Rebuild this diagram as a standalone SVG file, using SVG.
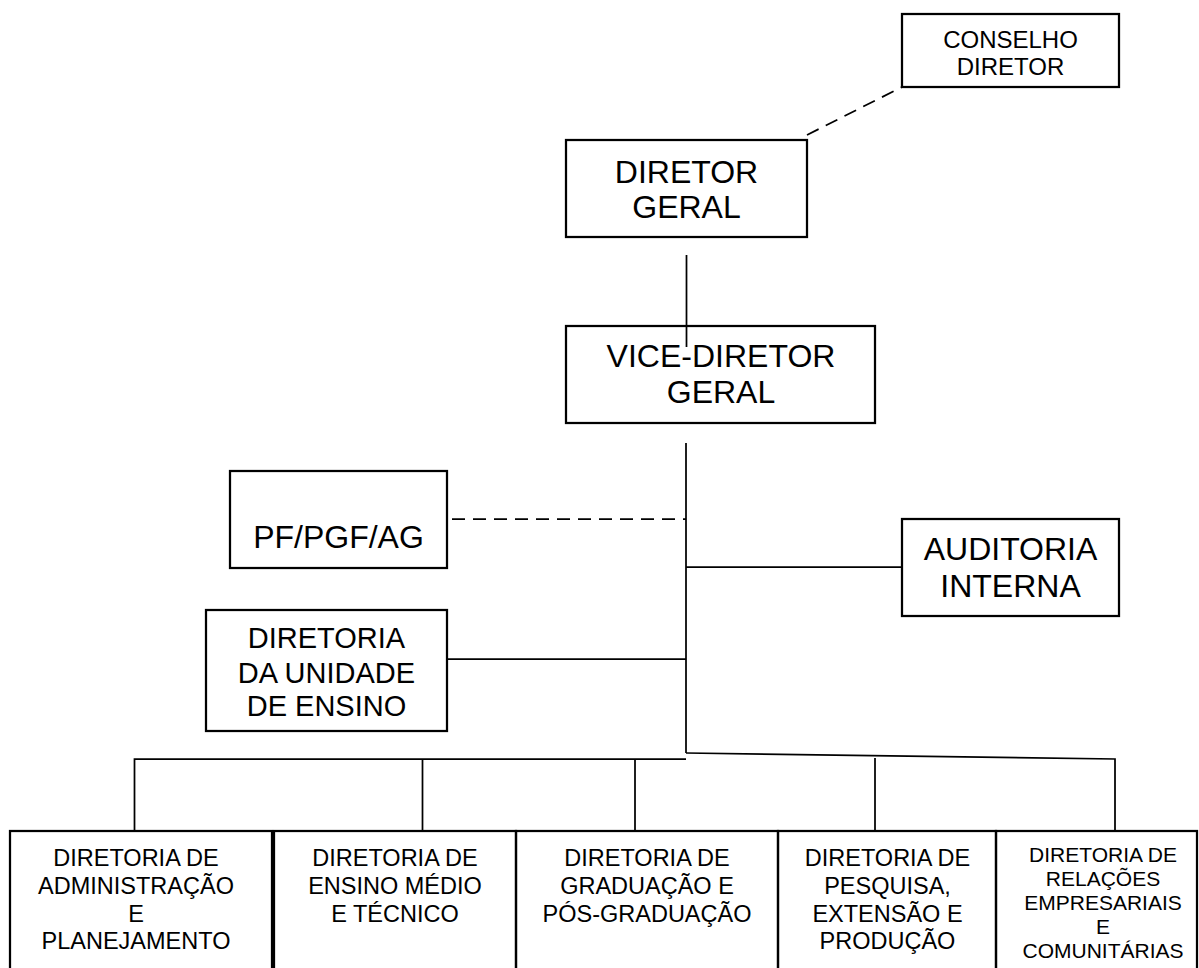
<svg xmlns="http://www.w3.org/2000/svg" width="1199" height="968" viewBox="0 0 1199 968">
<style>
.box{fill:none;stroke:#000;stroke-width:2.25}
.ln{fill:none;stroke:#000;stroke-width:1.75}
.dash{fill:none;stroke:#000;stroke-width:1.75;stroke-dasharray:13 8}
text{font-family:"Liberation Sans",Arial,sans-serif;fill:#000;text-anchor:middle}
.f32{font-size:32px}
.f29{font-size:29px}
.f24{font-size:24px}
.f23{font-size:23.5px}
.f21{font-size:21px}
</style>
<rect x="0" y="0" width="1199" height="968" fill="#fff"/>
<g id="conselho-diretor">
<rect class="box" x="902" y="14" width="217" height="73"/>
<text class="f24" x="1010.5" y="48">CONSELHO</text>
<text class="f24" x="1010.5" y="75">DIRETOR</text>
</g>
<g id="diretor-geral">
<rect class="box" x="566" y="140" width="241" height="97"/>
<text class="f32" x="686.5" y="183">DIRETOR</text>
<text class="f32" x="686.5" y="218">GERAL</text>
</g>
<g id="vice-diretor-geral">
<rect class="box" x="566" y="326" width="309" height="97"/>
<text class="f32" x="721" y="367">VICE-DIRETOR</text>
<text class="f32" x="721" y="403">GERAL</text>
</g>
<g id="pf-pgf-ag">
<rect class="box" x="230" y="471" width="217" height="97"/>
<text class="f32" x="338.5" y="548">PF/PGF/AG</text>
</g>
<g id="auditoria-interna">
<rect class="box" x="902" y="519" width="217" height="97"/>
<text class="f32" x="1010.5" y="560">AUDITORIA</text>
<text class="f32" x="1010.5" y="597">INTERNA</text>
</g>
<g id="diretoria-unidade-ensino">
<rect class="box" x="206" y="610" width="241" height="121"/>
<text class="f29" x="326.5" y="648">DIRETORIA</text>
<text class="f29" x="326.5" y="683">DA UNIDADE</text>
<text class="f29" x="326.5" y="716">DE ENSINO</text>
</g>
<g id="dir-administracao">
<rect class="box" x="10" y="831" width="262" height="160"/>
<text class="f23" x="136" y="866">DIRETORIA DE</text>
<text class="f23" x="136" y="894">ADMINISTRAÇÃO</text>
<text class="f23" x="136" y="922">E</text>
<text class="f23" x="136" y="949">PLANEJAMENTO</text>
</g>
<g id="dir-ensino-medio">
<rect class="box" x="274" y="831" width="242" height="160"/>
<text class="f23" x="395" y="866">DIRETORIA DE</text>
<text class="f23" x="395" y="894">ENSINO MÉDIO</text>
<text class="f23" x="395" y="922">E TÉCNICO</text>
</g>
<g id="dir-graduacao">
<rect class="box" x="516" y="831" width="262" height="160"/>
<text class="f23" x="647" y="866">DIRETORIA DE</text>
<text class="f23" x="647" y="894">GRADUAÇÃO E</text>
<text class="f23" x="647" y="922">PÓS-GRADUAÇÃO</text>
</g>
<g id="dir-pesquisa">
<rect class="box" x="778" y="831" width="218" height="160"/>
<text class="f23" x="887.5" y="866">DIRETORIA DE</text>
<text class="f23" x="887.5" y="894">PESQUISA,</text>
<text class="f23" x="887.5" y="922">EXTENSÃO E</text>
<text class="f23" x="887.5" y="949">PRODUÇÃO</text>
</g>
<g id="dir-relacoes">
<rect class="box" x="996" y="831" width="201" height="160"/>
<text class="f21" x="1103" y="862">DIRETORIA DE</text>
<text class="f21" x="1103" y="886">RELAÇÕES</text>
<text class="f21" x="1103" y="910">EMPRESARIAIS</text>
<text class="f21" x="1103" y="934">E</text>
<text class="f21" x="1103" y="958">COMUNITÁRIAS</text>
</g>
<g id="connectors">
<line class="dash" x1="807" y1="135" x2="902" y2="87"/>
<line class="ln" x1="686.5" y1="255" x2="686.5" y2="347"/>
<line class="ln" x1="686" y1="443" x2="686" y2="753"/>
<line class="dash" x1="452" y1="519" x2="686" y2="519"/>
<line class="ln" x1="686" y1="567" x2="902" y2="567"/>
<line class="ln" x1="447" y1="659" x2="686" y2="659"/>
<polyline class="ln" points="134.5,831 134.5,759 686,759"/>
<polyline class="ln" points="686,753 1115,759 1115,831"/>
<line class="ln" x1="422.5" y1="759" x2="422.5" y2="831"/>
<line class="ln" x1="635" y1="759" x2="635" y2="831"/>
<line class="ln" x1="875" y1="758" x2="875" y2="831"/>
</g>
</svg>
